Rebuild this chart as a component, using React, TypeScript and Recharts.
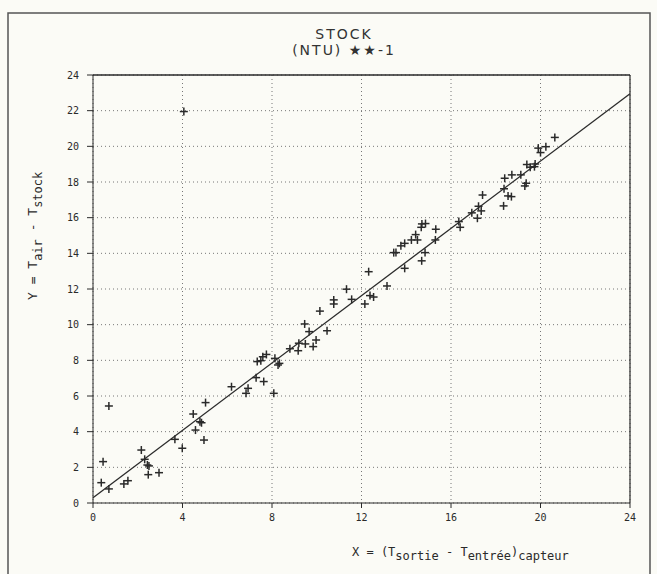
import { CartesianGrid, ReferenceLine, Scatter, ScatterChart, XAxis, YAxis } from 'recharts'

const pointX = [
  0.37, 0.45, 0.71, 0.71, 1.38, 1.56, 2.16, 2.31, 2.43, 2.5, 2.47, 2.95, 3.66, 3.99, 4.48, 4.58, 4.78, 4.85,
  4.96, 5.03, 6.19, 6.84, 6.93, 7.63, 8.08, 7.29, 7.34, 7.5, 7.59, 7.75, 8.13, 8.27, 8.33, 8.8, 9.2, 9.17,
  9.49, 9.84, 9.97, 9.46, 9.66, 10.46, 10.14, 10.76, 10.76, 11.33, 11.56, 12.15, 12.32, 12.38, 12.54, 13.14,
  13.44, 13.54, 13.93, 13.76, 13.93, 14.23, 14.5, 14.42, 14.67, 14.7, 14.86, 14.69, 14.84, 15.32, 15.3, 16.41,
  16.35, 16.93, 17.18, 17.23, 17.35, 17.41, 18.35, 18.37, 18.4, 18.55, 18.7, 18.72, 19.12, 19.3, 19.36, 19.39,
  19.54, 19.73, 19.76, 19.9, 20.0, 20.24, 20.64, 4.06,
]
const pointY = [
  1.14, 2.32, 5.44, 0.79, 1.07, 1.25, 2.97, 2.45, 2.13, 2.08, 1.59, 1.7, 3.57, 3.07, 4.99, 4.09, 4.56, 4.5,
  3.53, 5.63, 6.52, 6.15, 6.43, 6.81, 6.15, 7.03, 7.93, 7.98, 8.2, 8.33, 8.11, 7.74, 7.83, 8.65, 8.96, 8.54,
  8.92, 8.77, 9.14, 10.04, 9.61, 9.66, 10.76, 11.39, 11.16, 11.99, 11.42, 11.16, 12.97, 11.63, 11.55, 12.17,
  14.04, 14.04, 13.16, 14.42, 14.56, 14.75, 14.75, 15.05, 15.46, 15.65, 15.67, 13.58, 14.04, 15.35, 14.75, 15.46,
  15.78, 16.27, 15.97, 16.64, 16.38, 17.27, 16.66, 17.62, 18.21, 17.22, 17.18, 18.4, 18.4, 17.78, 17.93, 18.98,
  18.83, 18.86, 19.01, 19.9, 19.65, 19.98, 20.5, 21.95,
]

// regression line end points
const fitX = [0, 24]
const fitY = [0.3, 22.95]

const xTicks = [0, 4, 8, 12, 16, 20, 24]
const yTicks = [0, 2, 4, 6, 8, 10, 12, 14, 16, 18, 20, 22, 24]

const points = pointX.map((x, i) => ({ x, y: pointY[i] }))
const fit = fitX.map((x, i) => ({ x, y: fitY[i] }))

const INK = '#2a2a2a'
const FONT = '"DejaVu Sans Mono", monospace'

function Plus(props: any) {
  const { cx, cy } = props
  if (cx == null || cy == null) return <g />
  return (
    <g stroke={INK} strokeWidth={1.5}>
      <line x1={cx - 4} x2={cx + 4} y1={cy} y2={cy} />
      <line x1={cx} x2={cx} y1={cy - 4} y2={cy + 4} />
    </g>
  )
}

const NoDot = () => <g />

export default function App() {
  return (
    <div style={{ position: 'absolute', left: 0, top: 0, width: 657, height: 574, background: '#fbfbf6', overflow: 'hidden' }}>
      <ScatterChart width={657} height={574} margin={{ top: 75, right: 27, bottom: 41, left: 63 }}>
        <CartesianGrid stroke="#777" strokeDasharray="1 3" horizontalValues={yTicks} verticalValues={xTicks} />
        <XAxis
          type="number"
          dataKey="x"
          domain={[0, 24]}
          ticks={xTicks}
          height={30}
          tickSize={5}
          tickMargin={6}
          stroke={INK}
          tick={{ fontSize: 10, fontFamily: FONT, fill: INK }}
        />
        <YAxis
          type="number"
          dataKey="y"
          domain={[0, 24]}
          ticks={yTicks}
          width={30}
          tickSize={6}
          tickMargin={8}
          stroke={INK}
          tick={{ fontSize: 10, fontFamily: FONT, fill: INK }}
        />
        <ReferenceLine y={24} stroke={INK} strokeWidth={1.5} />
        <ReferenceLine x={24} stroke={INK} strokeWidth={1.2} />
        <Scatter data={fit} line={{ stroke: INK, strokeWidth: 1.3 }} shape={NoDot} isAnimationActive={false} />
        <Scatter data={points} shape={Plus} isAnimationActive={false} />
      </ScatterChart>
      <svg width={657} height={574} style={{ position: 'absolute', left: 0, top: 0, pointerEvents: 'none' }}>
        <rect x={8} y={13} width={642} height={600} fill="none" stroke="#555" strokeWidth={1.5} />
        <g fontFamily='"DejaVu Sans", sans-serif' fill="#333" fontSize={14} textAnchor="middle" letterSpacing={2}>
          <text x={344} y={39}>STOCK</text>
          <text x={344} y={55}>(NTU) ★★-1</text>
        </g>
        <text x={352} y={556} fontFamily={FONT} fontSize={12} fill={INK}>
          X = (T<tspan dy={4}>sortie</tspan>
          <tspan dy={-4}> - T</tspan>
          <tspan dy={4}>entrée</tspan>
          <tspan dy={-4}>)</tspan>
          <tspan dy={4}>capteur</tspan>
        </text>
        <text x={0} y={0} transform="translate(37 300) rotate(-90)" fontFamily={FONT} fontSize={13} fill={INK}>
          Y = T<tspan dy={5} fontSize={12}>air</tspan>
          <tspan dy={-5}> - T</tspan>
          <tspan dy={5} fontSize={12}>stock</tspan>
        </text>
      </svg>
    </div>
  )
}
